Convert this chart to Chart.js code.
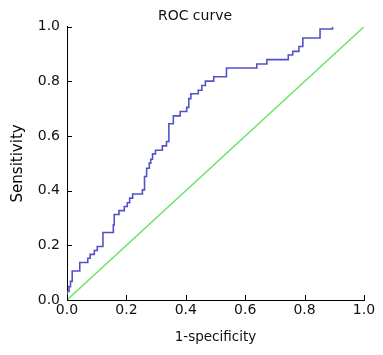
<!DOCTYPE html>
<html><head><meta charset="utf-8">
<script src="https://cdn.jsdelivr.net/npm/chart.js@4.4.1/dist/chart.umd.min.js"></script>
<style>html,body{margin:0;padding:0;background:#fff;}#wrap{width:383px;height:355px;}</style>
</head><body><div id="wrap"><canvas id="c" width="383" height="355"></canvas></div>
<script>
// ROC curve vertices (1-specificity, sensitivity)
const fpr = [0,0,0.0067,0.0118,0.0175,0.043,0.070,0.078,0.092,0.102,
  0.121,0.156,0.159,0.175,0.193,0.203,0.211,0.221,0.254,0.261,
  0.268,0.277,0.282,0.288,0.298,0.321,0.335,0.343,0.358,0.381,
  0.403,0.410,0.417,0.442,0.454,0.466,0.494,0.537,0.639,0.673,
  0.745,0.760,0.781,0.794,0.852,0.894];
const tpr = [0,0.031,0.049,0.068,0.106,0.137,0.153,0.167,0.181,0.196,
  0.247,0.275,0.313,0.327,0.342,0.356,0.373,0.388,0.403,0.452,
  0.482,0.501,0.515,0.535,0.548,0.564,0.580,0.645,0.674,0.690,
  0.705,0.737,0.755,0.768,0.785,0.801,0.817,0.849,0.864,0.880,
  0.897,0.910,0.928,0.959,0.992,1.0];
// Reference (chance) line
const refX = [0, 1];
const refY = [0, 1];
const xTickLabels = ['0.0','0.2','0.4','0.6','0.8','1.0'];
const yTickLabels = ['0.0','0.2','0.4','0.6','0.8','1.0'];
const titleText = 'ROC curve';
const xTitle = '1-specificity';
const yTitle = 'Sensitivity';

const FONT = 'DejaVu Sans';
const inTicks = {
  id: 'inTicks',
  afterDatasetsDraw(chart) {
    const {ctx, chartArea: a, scales: {x, y}} = chart;
    ctx.save();
    ctx.strokeStyle = '#000';
    ctx.lineWidth = 1;
    ctx.beginPath();
    x.ticks.forEach(t => {
      const p = Math.round(x.getPixelForValue(t.value)) + 0.5;
      ctx.moveTo(p, a.bottom); ctx.lineTo(p, a.bottom - 5);
    });
    y.ticks.forEach(t => {
      const p = Math.round(y.getPixelForValue(t.value)) + 0.5;
      ctx.moveTo(a.left, p); ctx.lineTo(a.left + 5, p);
    });
    ctx.stroke();
    ctx.restore();
  }
};

new Chart(document.getElementById('c'), {
  type: 'line',
  data: {
    datasets: [
      {
        data: refX.map((v, i) => ({x: v, y: refY[i]})),
        borderColor: '#66e466',
        borderWidth: 1.4,
        pointRadius: 0,
        fill: false,
        tension: 0
      },
      {
        data: fpr.map((v, i) => ({x: v, y: tpr[i]})),
        borderColor: '#5252c8',
        borderWidth: 1.6,
        pointRadius: 0,
        fill: false,
        stepped: 'before'
      }
    ]
  },
  options: {
    responsive: false,
    devicePixelRatio: 1,
    animation: false,
    layout: {padding: {top: 0, right: 0, bottom: 0, left: 7}},
    plugins: {
      legend: {display: false},
      tooltip: {enabled: false},
      title: {
        display: true,
        text: titleText,
        color: '#111',
        font: {family: FONT, size: 14, weight: 'normal'},
        padding: {top: 8, bottom: 2}
      }
    },
    scales: {
      x: {
        type: 'linear',
        min: 0, max: 1,
        afterFit: s => { s.height = 55; },
        border: {display: true, color: '#000', width: 1},
        grid: {display: true, drawOnChartArea: false, drawTicks: false},
        ticks: {
          stepSize: 0.2,
          padding: 2,
          color: '#111',
          maxRotation: 0,
          font: {family: FONT, size: 14},
          callback: (v, i) => xTickLabels[i]
        },
        title: {
          display: true,
          text: xTitle,
          color: '#111',
          font: {family: FONT, size: 13.5},
          padding: {top: 9, bottom: 9}
        }
      },
      y: {
        type: 'linear',
        min: 0, max: 1,
        afterFit: s => { s.width = 60; },
        border: {display: true, color: '#000', width: 1},
        grid: {display: true, drawOnChartArea: false, drawTicks: false},
        ticks: {
          stepSize: 0.2,
          padding: 7,
          color: '#111',
          font: {family: FONT, size: 14},
          callback: (v, i) => yTickLabels[i]
        },
        title: {
          display: true,
          text: yTitle,
          color: '#000',
          font: {family: FONT, size: 15, weight: 'normal'},
          padding: {top: 2, bottom: 2}
        }
      },
      yRight: {
        type: 'linear',
        position: 'right',
        min: 0, max: 1,
        afterFit: s => { s.width = 19; },
        border: {display: false},
        grid: {display: false},
        ticks: {display: false}
      }
    }
  },
  plugins: [inTicks]
});
</script>
</body></html>
